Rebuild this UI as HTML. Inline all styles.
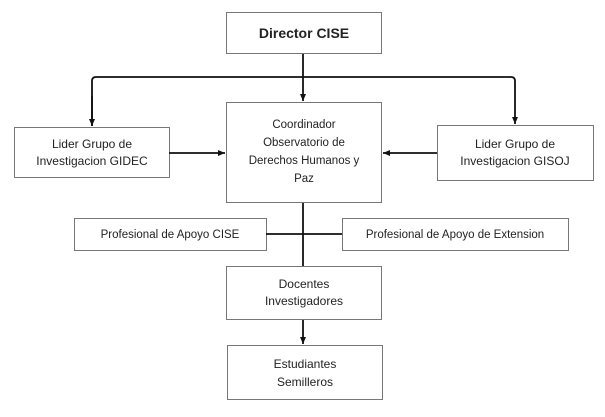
<!DOCTYPE html>
<html><head><meta charset="utf-8"><style>
body{margin:0;background:#fff;}
svg text{font-family:"Liberation Sans",sans-serif;fill:#222;text-anchor:middle;}
</style></head><body>
<svg width="605" height="412" viewBox="0 0 605 412" xmlns="http://www.w3.org/2000/svg">
<defs><marker id="a" markerWidth="8" markerHeight="8" refX="7" refY="4" orient="auto" markerUnits="userSpaceOnUse"><path d="M0,1 L7,4 L0,7z" fill="#111"/></marker></defs>
<g fill="#fff" stroke="#777" stroke-width="1">
<rect x="226.5" y="12.5" width="155" height="41"/>
<rect x="226.5" y="102.5" width="155" height="100"/>
<rect x="14.5" y="127.5" width="155" height="50"/>
<rect x="437.5" y="125.5" width="156" height="55"/>
<rect x="74.5" y="218.5" width="192" height="32"/>
<rect x="342.5" y="218.5" width="226" height="32"/>
<rect x="226.5" y="266.5" width="155" height="53"/>
<rect x="227.5" y="345.5" width="155" height="54"/>
</g>
<g stroke="#111" stroke-width="1.8" fill="none">
<line x1="303" y1="54" x2="303" y2="101" marker-end="url(#a)"/>
<path d="M92,126 V81 Q92,77 96,77 H511 Q515,77 515,81 V124" marker-end="url(#a)"/>
<path d="M92,96 V126" marker-end="url(#a)"/>
<line x1="169" y1="153" x2="225" y2="153" marker-end="url(#a)"/>
<line x1="437" y1="153" x2="383" y2="153" marker-end="url(#a)"/>
<line x1="303" y1="203" x2="303" y2="266"/>
<line x1="266" y1="234" x2="342" y2="234"/>
<line x1="303" y1="320" x2="303" y2="344" marker-end="url(#a)"/>
</g>
<text x="304" y="38" font-size="14" font-weight="bold">Director CISE</text>
<text font-size="11.5"><tspan x="304" y="128">Coordinador</tspan><tspan x="304" y="146">Observatorio de</tspan><tspan x="304" y="164">Derechos Humanos y</tspan><tspan x="304" y="182">Paz</tspan></text>
<text font-size="12"><tspan x="92" y="148">Lider Grupo de</tspan><tspan x="92" y="165">Investigacion GIDEC</tspan></text>
<text font-size="12"><tspan x="515" y="148">Lider Grupo de</tspan><tspan x="515" y="165">Investigacion GISOJ</tspan></text>
<text x="170" y="238" font-size="11.5">Profesional de Apoyo CISE</text>
<text x="455" y="238" font-size="11.5">Profesional de Apoyo de Extension</text>
<text font-size="12"><tspan x="304" y="288">Docentes</tspan><tspan x="304" y="305">Investigadores</tspan></text>
<text font-size="12"><tspan x="305" y="368">Estudiantes</tspan><tspan x="305" y="386">Semilleros</tspan></text>
</svg>
</body></html>
